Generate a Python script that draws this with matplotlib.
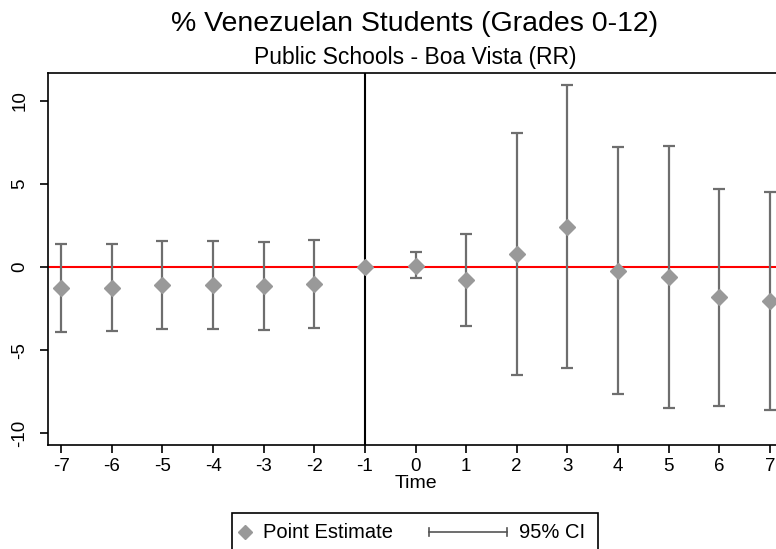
import numpy as np
import matplotlib.pyplot as plt
from matplotlib.lines import Line2D
from matplotlib.patches import Rectangle

plt.rcParams['font.family'] = ['Liberation Sans', 'DejaVu Sans']
plt.rcParams['axes.unicode_minus'] = False

# event time and estimates
time = [-7, -6, -5, -4, -3, -2, -1, 0, 1, 2, 3, 4, 5, 6, 7]
estimate = [-1.28, -1.24, -1.10, -1.10, -1.15, -1.00, 0.0, 0.08, -0.78, 0.80, 2.42, -0.22, -0.62, -1.82, -2.02]
ci_upper = [1.40, 1.42, 1.58, 1.55, 1.50, 1.65, 0.0, 0.92, 1.98, 8.10, 10.93, 7.21, 7.27, 4.68, 4.55]
ci_lower = [-3.90, -3.86, -3.70, -3.72, -3.76, -3.65, 0.0, -0.68, -3.56, -6.50, -6.09, -7.65, -8.49, -8.33, -8.59]
yticks = [-10, -5, 0, 5, 10]

W, H = 776, 549
fig = plt.figure(figsize=(W / 100, H / 100), dpi=100)
# the graph is cropped on the right in the original, so the axes run past the figure edge
ax = fig.add_axes([48 / W, (H - 445) / H, (783 - 48) / W, (445 - 72.7) / H])

t = np.array(time)
est = np.array(estimate)
lo = np.array(ci_lower)
hi = np.array(ci_upper)
has_ci = hi != lo

ax.axhline(0, color='red', lw=1.5, zorder=1)
ax.axvline(-1, color='black', lw=1.5, zorder=1)

ax.errorbar(t[has_ci], est[has_ci],
            yerr=[est[has_ci] - lo[has_ci], hi[has_ci] - est[has_ci]],
            fmt='none', ecolor='#6e6e6e', elinewidth=1.6, capsize=4.5, capthick=1.6, zorder=2)
ax.plot(t, est, 'D', color='#999999', ms=8, mec='#999999', zorder=3)

ax.set_xlim(-7.26, 7.26)
ax.set_ylim(-10.7, 11.7)
ax.set_xticks(time)
ax.set_xticklabels([str(v) for v in time])
ax.set_yticks(yticks)
ax.set_yticklabels([str(v) for v in yticks], rotation=90, va='center')
ax.tick_params(labelsize=13.5, length=6, width=1.2, direction='out')
ax.tick_params(axis='y', pad=8)
ax.spines['right'].set_visible(False)
for s in ['left', 'bottom', 'top']:
    ax.spines[s].set_linewidth(1.2)
ax.set_xlabel('Time', fontsize=14, labelpad=0)

xc_fig = 415 / W
fig.text(xc_fig, 1 - 31 / H, '% Venezuelan Students (Grades 0-12)', ha='center', va='baseline', fontsize=20.5)
fig.text(xc_fig, 1 - 64 / H, 'Public Schools - Boa Vista (RR)', ha='center', va='baseline', fontsize=16.5)

# legend box
fig.patches.append(Rectangle((232 / W, -0.05), (598 - 232) / W, (H - 513) / H + 0.05,
                             transform=fig.transFigure, fill=False, ec='black', lw=1.2))
y_leg = 1 - 532 / H
fig.add_artist(Line2D([245 / W], [y_leg], marker='D', color='#999999', ms=7,
                      transform=fig.transFigure))
fig.text(263 / W, y_leg, 'Point Estimate', va='center', fontsize=14.5)
fig.add_artist(Line2D([429 / W, 507 / W], [y_leg, y_leg], color='#555555', lw=1.2, transform=fig.transFigure))
for xc in (429, 507):
    fig.add_artist(Line2D([xc / W, xc / W], [y_leg - 4 / H, y_leg + 4 / H], color='#555555', lw=1.2,
                          transform=fig.transFigure))
fig.text(519 / W, y_leg, '95% CI', va='center', fontsize=14.5)

fig.savefig('out.png', dpi=100)
